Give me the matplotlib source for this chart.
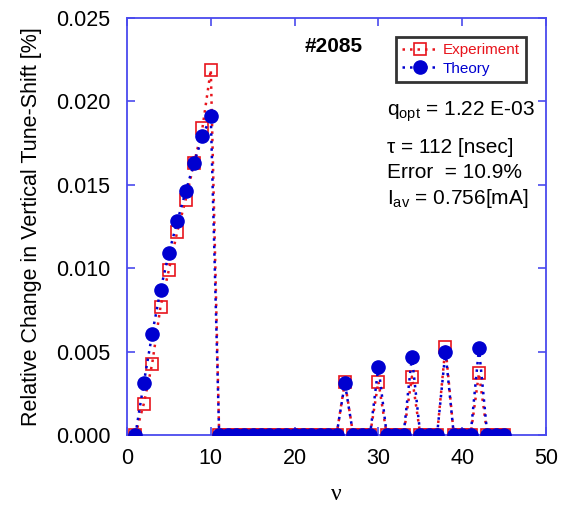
import matplotlib
matplotlib.use("Agg")
import matplotlib.pyplot as plt
import numpy as np

plt.rcParams['font.family'] = ['Liberation Sans', 'DejaVu Sans']
plt.rcParams['mathtext.fontset'] = 'custom'
plt.rcParams['mathtext.rm'] = 'Liberation Sans'
plt.rcParams['mathtext.it'] = 'Liberation Sans'

nu = list(range(1, 46))
experiment = [0.0, 0.00186, 0.00426, 0.0077, 0.0099, 0.0122, 0.0141, 0.0163, 0.0184, 0.0219,
              0, 0, 0, 0, 0, 0, 0, 0, 0, 0, 0, 0, 0, 0, 0,
              0.0032, 0, 0, 0, 0.0032, 0, 0, 0, 0.0035, 0, 0, 0, 0.0053, 0, 0, 0, 0.0037, 0, 0, 0]
theory = [0.0, 0.00312, 0.00605, 0.0087, 0.0109, 0.0128, 0.0146, 0.0163, 0.0179, 0.0191,
          0, 0, 0, 0, 0, 0, 0, 0, 0, 0, 0, 0, 0, 0, 0,
          0.0031, 0, 0, 0, 0.0041, 0, 0, 0, 0.0047, 0, 0, 0, 0.0050, 0, 0, 0, 0.0052, 0, 0, 0]
xticks = [0, 10, 20, 30, 40, 50]
yticks = [0.000, 0.005, 0.010, 0.015, 0.020, 0.025]

W, H = 568, 507
fig = plt.figure(figsize=(W / 100, H / 100), dpi=100)
ax = fig.add_axes([127 / W, 1 - 435 / H, (546 - 127) / W, (435 - 18) / H])

red = '#e8141c'
blue = '#0000d0'
ax.plot(nu, experiment, linestyle=(0, (1, 2)), color=red, lw=1.8,
        marker='s', markersize=9, markerfacecolor='none', markeredgecolor=red,
        markeredgewidth=1.2, label='Experiment', zorder=3)
ax.plot(nu, theory, linestyle=(0, (1, 2)), color=blue, lw=1.8,
        marker='o', markersize=9.5, markerfacecolor=blue, markeredgecolor=blue,
        label='Theory', zorder=4)

ax.set_xlim(0, 50)
ax.set_ylim(0, 0.025)
ax.set_xticks(xticks)
ax.set_yticks(yticks)
ax.set_yticklabels([f'{v:.3f}' for v in yticks])
spine_col = '#4a4aee'
for s in ax.spines.values():
    s.set_color(spine_col)
    s.set_linewidth(1.3)
ax.tick_params(direction='in', top=True, right=True, length=6, width=1.2,
               color=spine_col, labelsize=15.5, labelcolor='black')
ax.tick_params(axis='y', pad=12)
ax.tick_params(axis='x', pad=9)

ax.set_ylabel('Relative Change in Vertical Tune-Shift [%]', fontsize=15.5, labelpad=10)
ax.set_xlabel('ν', fontsize=17, family=['Liberation Serif', 'DejaVu Serif'], labelpad=11)

leg = ax.legend(loc='upper right', bbox_to_anchor=(526 / W, 1 - 37 / H),
                bbox_transform=fig.transFigure, fontsize=11, frameon=True,
                fancybox=False, edgecolor='black', handlelength=2.4,
                borderpad=0.4, labelspacing=0.3, handletextpad=0.3, borderaxespad=0)
leg.get_frame().set_linewidth(2)
for t, c in zip(leg.get_texts(), [red, blue]):
    t.set_color(c)

fig.text(305 / W, 1 - 47 / H, '#2085', fontsize=15, fontweight='bold', va='center')
fs = 15
fig.text(387 / W, 1 - 112 / H, r'q$_{\rm opt}$ = 1.22 E-03', fontsize=fs, va='center')
fig.text(387 / W, 1 - 148 / H, 'τ = 112 [nsec]', fontsize=fs, va='center')
fig.text(387 / W, 1 - 173 / H, 'Error  = 10.9%', fontsize=fs, va='center')
fig.text(387 / W, 1 - 198 / H, r'I$_{\rm av}$ = 0.756[mA]', fontsize=fs, va='center')

fig.savefig('out.png', dpi=100)
